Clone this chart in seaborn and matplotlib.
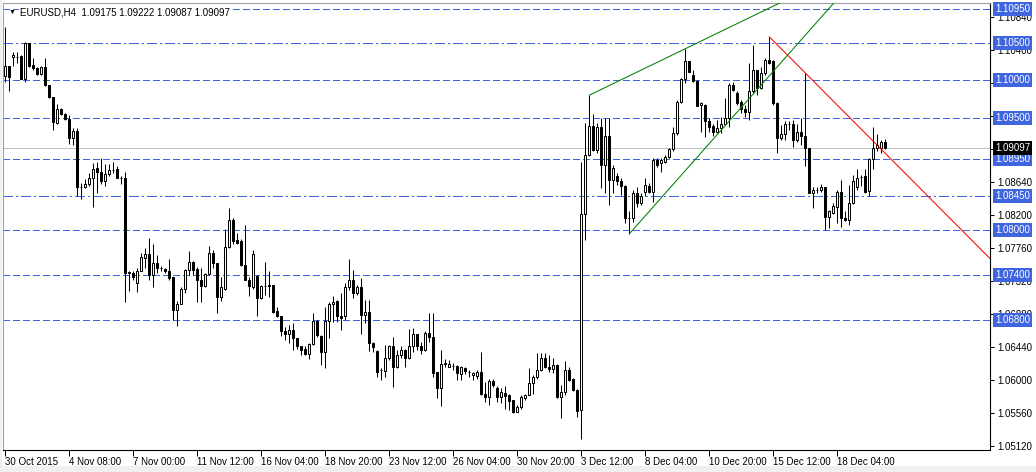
import numpy as np
import pandas as pd
import matplotlib
matplotlib.use("Agg")
import matplotlib.pyplot as plt
import matplotlib.transforms as mtransforms
from matplotlib.patches import Rectangle
import seaborn as sns

# EURUSD H4 candles (bar 0 = 30 Oct 2015)
opens = [
    1.1006, 1.1019, 1.1031, 1.1031, 1.1032, 1.1002, 1.1049, 1.1020, 1.1016, 1.1008,
    1.1017, 1.0994, 1.0977, 1.0943, 1.0961, 1.0955, 1.0948, 1.0923, 1.0932, 1.0858,
    1.0858, 1.0861, 1.0869, 1.0883, 1.0877, 1.0866, 1.0875, 1.0880, 1.0881, 1.0870,
    1.0869, 1.0744, 1.0743, 1.0730, 1.0746, 1.0763, 1.0768, 1.0740, 1.0756, 1.0750,
    1.0748, 1.0746, 1.0737, 1.0694, 1.0702, 1.0722, 1.0747, 1.0757, 1.0748, 1.0734,
    1.0726, 1.0741, 1.0770, 1.0756, 1.0711, 1.0722, 1.0777, 1.0813, 1.0787, 1.0786,
    1.0754, 1.0734, 1.0724, 1.0739, 1.0710, 1.0725, 1.0727, 1.0727, 1.0692, 1.0685,
    1.0665, 1.0661, 1.0667, 1.0656, 1.0645, 1.0642, 1.0635, 1.0648, 1.0679, 1.0659,
    1.0638, 1.0679, 1.0701, 1.0706, 1.0685, 1.0685, 1.0724, 1.0734, 1.0716, 1.0724,
    1.0687, 1.0691, 1.0650, 1.0639, 1.0613, 1.0612, 1.0629, 1.0645, 1.0618, 1.0633,
    1.0640, 1.0630, 1.0645, 1.0662, 1.0646, 1.0640, 1.0663, 1.0658, 1.0611, 1.0590,
    1.0622, 1.0618, 1.0619, 1.0619, 1.0608, 1.0616, 1.0611, 1.0607, 1.0605, 1.0611,
    1.0582, 1.0577, 1.0599, 1.0589, 1.0578, 1.0583, 1.0580, 1.0573, 1.0558, 1.0564,
    1.0576, 1.0580, 1.0596, 1.0604, 1.0614, 1.0630, 1.0618, 1.0615, 1.0620, 1.0578,
    1.0584, 1.0613, 1.0601, 1.0587, 1.0560, 1.0822, 1.0900, 1.0939, 1.0907, 1.0937,
    1.0887, 1.0925, 1.0867, 1.0872, 1.0866, 1.0859, 1.0816, 1.0816, 1.0849, 1.0836,
    1.0851, 1.0859, 1.0851, 1.0894, 1.0889, 1.0891, 1.0897, 1.0908, 1.0929, 1.0971,
    1.1001, 1.1025, 1.1007, 1.0999, 1.0967, 1.0967, 1.0946, 1.0939, 1.0931, 1.0936,
    1.0942, 1.0950, 1.0994, 1.0983, 1.0971, 1.0962, 1.0958, 1.0985, 1.1014, 1.0989,
    1.1009, 1.1027, 1.1025, 1.0969, 1.0923, 1.0928, 1.0942, 1.0942, 1.0920, 1.0931,
    1.0925, 1.0909, 1.0850, 1.0853, 1.0853, 1.0857, 1.0817, 1.0823, 1.0831, 1.0851,
    1.0816, 1.0814, 1.0836, 1.0857, 1.0871, 1.0872, 1.0852, 1.0895, 1.0909, 1.0910,
    1.09175,
]
highs = [
    1.1071, 1.1019, 1.1038, 1.1038, 1.1033, 1.1051, 1.1050, 1.1030, 1.1018, 1.1019,
    1.1030, 1.0994, 1.0978, 1.0968, 1.0963, 1.0956, 1.0954, 1.0936, 1.0936, 1.0863,
    1.0868, 1.0876, 1.0890, 1.0891, 1.0896, 1.0888, 1.0888, 1.0891, 1.0885, 1.0872,
    1.0878, 1.0746, 1.0745, 1.0749, 1.0770, 1.0776, 1.0789, 1.0781, 1.0767, 1.0752,
    1.0750, 1.0762, 1.0737, 1.0705, 1.0724, 1.0748, 1.0772, 1.0759, 1.0751, 1.0749,
    1.0743, 1.0779, 1.0773, 1.0756, 1.0738, 1.0801, 1.0829, 1.0816, 1.0796, 1.0788,
    1.0807, 1.0738, 1.0774, 1.0740, 1.0727, 1.0758, 1.0745, 1.0727, 1.0698, 1.0685,
    1.0671, 1.0673, 1.0676, 1.0656, 1.0645, 1.0645, 1.0649, 1.0690, 1.0680, 1.0660,
    1.0698, 1.0704, 1.0712, 1.0707, 1.0716, 1.0730, 1.0761, 1.0747, 1.0727, 1.0736,
    1.0707, 1.0707, 1.0651, 1.0640, 1.0616, 1.0647, 1.0647, 1.0657, 1.0640, 1.0645,
    1.0642, 1.0668, 1.0669, 1.0662, 1.0651, 1.0665, 1.0689, 1.0689, 1.0611, 1.0640,
    1.0628, 1.0627, 1.0623, 1.0620, 1.0619, 1.0617, 1.0613, 1.0611, 1.0614, 1.0638,
    1.0598, 1.0602, 1.0602, 1.0592, 1.0589, 1.0592, 1.0582, 1.0573, 1.0567, 1.0580,
    1.0582, 1.0616, 1.0607, 1.0636, 1.0636, 1.0636, 1.0634, 1.0629, 1.0622, 1.0594,
    1.0626, 1.0617, 1.0603, 1.0588, 1.0891, 1.0943, 1.0980, 1.0955, 1.0943, 1.0949,
    1.0949, 1.0949, 1.0887, 1.0876, 1.0870, 1.0860, 1.0826, 1.0854, 1.0858, 1.0850,
    1.0869, 1.0863, 1.0896, 1.0896, 1.0896, 1.0900, 1.0909, 1.0938, 1.0973, 1.1003,
    1.1042, 1.1026, 1.1014, 1.1000, 1.0971, 1.0968, 1.0949, 1.0942, 1.0947, 1.0951,
    1.0976, 1.0996, 1.0998, 1.0985, 1.0973, 1.0967, 1.1023, 1.1047, 1.1014, 1.1018,
    1.1029, 1.1058, 1.1027, 1.0971, 1.0940, 1.0945, 1.0946, 1.0947, 1.0942, 1.0949,
    1.1010, 1.0909, 1.0857, 1.0858, 1.0862, 1.0858, 1.0827, 1.0836, 1.0853, 1.0867,
    1.0825, 1.0860, 1.0874, 1.0882, 1.0873, 1.0882, 1.0896, 1.0938, 1.0928, 1.0920,
    1.09222,
]
lows = [
    1.0998, 1.0985, 1.1019, 1.1023, 1.1001, 1.0998, 1.1018, 1.1014, 1.1007, 1.1007,
    1.0992, 1.0976, 1.0934, 1.0942, 1.0954, 1.0947, 1.0915, 1.0913, 1.0845, 1.0842,
    1.0856, 1.0859, 1.0831, 1.0849, 1.0862, 1.0859, 1.0872, 1.0876, 1.0869, 1.0862,
    1.0704, 1.0719, 1.0734, 1.0718, 1.0745, 1.0750, 1.0733, 1.0724, 1.0743, 1.0746,
    1.0743, 1.0734, 1.0680, 1.0672, 1.0701, 1.0716, 1.0740, 1.0740, 1.0704, 1.0704,
    1.0724, 1.0740, 1.0750, 1.0689, 1.0706, 1.0720, 1.0776, 1.0782, 1.0782, 1.0752,
    1.0733, 1.0712, 1.0722, 1.0685, 1.0708, 1.0713, 1.0711, 1.0689, 1.0684, 1.0659,
    1.0653, 1.0649, 1.0640, 1.0642, 1.0633, 1.0633, 1.0628, 1.0647, 1.0658, 1.0620,
    1.0616, 1.0656, 1.0678, 1.0678, 1.0667, 1.0680, 1.0720, 1.0710, 1.0713, 1.0662,
    1.0676, 1.0639, 1.0638, 1.0604, 1.0600, 1.0604, 1.0627, 1.0591, 1.0616, 1.0629,
    1.0618, 1.0628, 1.0638, 1.0640, 1.0635, 1.0639, 1.0651, 1.0604, 1.0576, 1.0565,
    1.0617, 1.0617, 1.0613, 1.0600, 1.0600, 1.0608, 1.0604, 1.0600, 1.0602, 1.0580,
    1.0571, 1.0567, 1.0591, 1.0571, 1.0569, 1.0561, 1.0560, 1.0556, 1.0557, 1.0562,
    1.0573, 1.0580, 1.0582, 1.0602, 1.0612, 1.0616, 1.0611, 1.0609, 1.0576, 1.0549,
    1.0580, 1.0599, 1.0585, 1.0551, 1.0522, 1.0787, 1.0899, 1.0905, 1.0903, 1.0856,
    1.0849, 1.0834, 1.0849, 1.0860, 1.0847, 1.0809, 1.0795, 1.0811, 1.0831, 1.0834,
    1.0845, 1.0850, 1.0838, 1.0884, 1.0878, 1.0889, 1.0896, 1.0905, 1.0927, 1.0969,
    1.0996, 1.1011, 1.0998, 1.0965, 1.0931, 1.0924, 1.0931, 1.0926, 1.0929, 1.0929,
    1.0940, 1.0938, 1.0985, 1.0967, 1.0956, 1.0951, 1.0947, 1.0983, 1.0980, 1.0988,
    1.1007, 1.1022, 1.0967, 1.0903, 1.0920, 1.0920, 1.0934, 1.0911, 1.0918, 1.0914,
    1.0886, 1.0849, 1.0830, 1.0850, 1.0851, 1.0800, 1.0803, 1.0822, 1.0809, 1.0804,
    1.0812, 1.0807, 1.0835, 1.0854, 1.0859, 1.0849, 1.0845, 1.0881, 1.0905, 1.0903,
    1.09087,
]
closes = [
    1.1019, 1.1004, 1.1033, 1.1031, 1.1002, 1.1049, 1.1019, 1.1016, 1.1008, 1.1017,
    1.0994, 1.0977, 1.0944, 1.0961, 1.0955, 1.0948, 1.0923, 1.0932, 1.0858, 1.0858,
    1.0861, 1.0869, 1.0881, 1.0877, 1.0866, 1.0875, 1.0880, 1.0880, 1.0870, 1.0869,
    1.0743, 1.0743, 1.0737, 1.0746, 1.0764, 1.0768, 1.0740, 1.0756, 1.0750, 1.0749,
    1.0745, 1.0736, 1.0694, 1.0702, 1.0722, 1.0747, 1.0757, 1.0747, 1.0733, 1.0726,
    1.0741, 1.0770, 1.0756, 1.0711, 1.0724, 1.0777, 1.0813, 1.0785, 1.0783, 1.0753,
    1.0734, 1.0725, 1.0768, 1.0710, 1.0725, 1.0725, 1.0725, 1.0691, 1.0685, 1.0665,
    1.0661, 1.0667, 1.0656, 1.0645, 1.0640, 1.0635, 1.0648, 1.0679, 1.0660, 1.0638,
    1.0679, 1.0702, 1.0704, 1.0685, 1.0683, 1.0724, 1.0734, 1.0716, 1.0724, 1.0687,
    1.0691, 1.0649, 1.0644, 1.0611, 1.0613, 1.0629, 1.0645, 1.0618, 1.0633, 1.0640,
    1.0630, 1.0645, 1.0662, 1.0645, 1.0640, 1.0663, 1.0658, 1.0610, 1.0589, 1.0621,
    1.0623, 1.0622, 1.0619, 1.0609, 1.0617, 1.0612, 1.0611, 1.0610, 1.0611, 1.0582,
    1.0577, 1.0599, 1.0594, 1.0578, 1.0584, 1.0579, 1.0572, 1.0558, 1.0564, 1.0578,
    1.0580, 1.0596, 1.0604, 1.0614, 1.0630, 1.0618, 1.0615, 1.0620, 1.0578, 1.0584,
    1.0613, 1.0600, 1.0587, 1.0559, 1.0822, 1.0900, 1.0939, 1.0907, 1.0937, 1.0887,
    1.0925, 1.0867, 1.0883, 1.0866, 1.0859, 1.0816, 1.0816, 1.0849, 1.0836, 1.0846,
    1.0860, 1.0851, 1.0894, 1.0887, 1.0894, 1.0898, 1.0908, 1.0929, 1.0971, 1.1001,
    1.1025, 1.1011, 1.0999, 1.0966, 1.0970, 1.0945, 1.0938, 1.0931, 1.0936, 1.0942,
    1.0950, 1.0994, 1.0987, 1.0970, 1.0961, 1.0957, 1.0985, 1.1014, 1.0989, 1.1009,
    1.1027, 1.1023, 1.0969, 1.0923, 1.0928, 1.0942, 1.0942, 1.0920, 1.0931, 1.0925,
    1.0909, 1.0850, 1.0854, 1.0853, 1.0857, 1.0817, 1.0825, 1.0832, 1.0851, 1.0816,
    1.0813, 1.0836, 1.0866, 1.0870, 1.0871, 1.0851, 1.0895, 1.0910, 1.0914, 1.0917,
    1.09097,
]

date_labels = ["30 Oct 2015", "4 Nov 08:00", "7 Nov 00:00", "11 Nov 12:00",
               "16 Nov 04:00", "18 Nov 20:00", "23 Nov 12:00", "26 Nov 04:00",
               "30 Nov 20:00", "3 Dec 12:00", "8 Dec 04:00", "10 Dec 20:00",
               "15 Dec 12:00", "18 Dec 04:00"]
label_every = 16  # bars between date labels

price_ticks = [1.10840, 1.10400, 1.09960, 1.09520, 1.09080, 1.08640, 1.08200,
               1.07760, 1.07320, 1.06880, 1.06440, 1.06000, 1.05560, 1.05120]
# scale labels fully covered by the level tags in the terminal
covered_ticks = ["1.09520", "1.09080"]

# horizontal levels drawn on the chart
levels = [1.10950, 1.10500, 1.10000, 1.09500, 1.08950, 1.08450, 1.08000, 1.07400, 1.06800]
level_styles = ["dash", "dashdot", "dash", "dash", "dash", "dashdot", "dash", "dash", "dash"]
bid = 1.09097

# trend rays: (bar, price) anchor points
rays = [
    ((146, 1.0980), (170, 1.1042), "green"),
    ((156, 1.0795), (200, 1.1060), "green"),
    ((191, 1.1058), (216, 1.0924), "red"),
]

BLUE = "#3f66e0"

sns.set_theme(style="white")
plt.rcParams["font.family"] = ["Liberation Sans", "DejaVu Sans"]

df = pd.DataFrame({"open": opens, "high": highs, "low": lows, "close": closes})
df["bar"] = np.arange(len(df))
df["up"] = df["close"] >= df["open"]

fig = plt.figure(figsize=(10.36, 4.72), dpi=100)
fig.patch.set_facecolor("white")
ax = fig.add_axes([3 / 1036, 22.5 / 472, 987 / 1036, 446.5 / 472])
ax.set_facecolor("white")

x_max = 246.2
ax.set_xlim(-0.6, x_max)
ax.set_ylim(1.05074, 1.11030)

# levels + bid line (crisp 1px like the terminal)
dash_map = {"dash": (6, 3), "dashdot": (10, 4, 2, 4)}
for lvl, st in zip(levels, level_styles):
    ax.axhline(lvl, color=BLUE, lw=0.72, dashes=dash_map[st], zorder=1,
               antialiased=False)
ax.axhline(bid, color="#c0c0c0", lw=0.72, zorder=1, antialiased=False)

# candles
ax.vlines(df["bar"], df["low"], df["high"], color="black", lw=0.72, zorder=3)
body_bot = df[["open", "close"]].min(axis=1)
body_h = (df["close"] - df["open"]).abs().clip(lower=0.00002)
ax.bar(df["bar"], body_h, bottom=body_bot, width=0.5,
       color=np.where(df["up"], "white", "black"), edgecolor="black",
       linewidth=0.72, zorder=4)

# trend rays
for (x0, y0), (x1, y1), col in rays:
    slope = (y1 - y0) / (x1 - x0)
    sns.lineplot(x=[x0, x_max], y=[y0, y0 + slope * (x_max - x0)],
                 color=col, lw=0.75, ax=ax, zorder=5)

# axes look
for side in ["right", "bottom"]:
    ax.spines[side].set_color("black")
    ax.spines[side].set_linewidth(0.8)
for side in ["left", "top"]:
    ax.spines[side].set_color("#a0a0a0")
    ax.spines[side].set_linewidth(0.8)

ax.set_xticks(range(0, label_every * len(date_labels), label_every))
ax.set_xticklabels(date_labels, ha="left")
shift = mtransforms.ScaledTranslation(2 / 72, 0, fig.dpi_scale_trans)
for lab in ax.get_xticklabels():
    lab.set_transform(lab.get_transform() + shift)
ax.tick_params(axis="x", direction="out", length=4, width=0.72, pad=1.5,
               labelsize=7, bottom=True, color="black", labelcolor="black")

ax.yaxis.tick_right()
ax.set_yticks(price_ticks)
tick_text = [f"{t:.5f}" for t in price_ticks]
ax.set_yticklabels(["" if s in covered_ticks else s for s in tick_text])
ax.tick_params(axis="y", direction="out", length=3, width=0.72, pad=2,
               labelsize=7, right=True, left=False, color="black", labelcolor="black")
ax.set_xlabel("")
ax.set_ylabel("")

# level price tags on the scale
trans = mtransforms.blended_transform_factory(ax.transAxes, ax.transData)
for lvl in levels:
    ax.text(1.0053, lvl, f"{lvl:.5f}", transform=trans, ha="left", va="center",
            fontsize=7, color="white", clip_on=False, zorder=10,
            bbox=dict(boxstyle="square,pad=0.2", fc=BLUE, ec="none"))
ax.text(1.0053, bid, f"{bid:.5f}", transform=trans, ha="left", va="center",
        fontsize=7, color="white", clip_on=False, zorder=10,
        bbox=dict(boxstyle="square,pad=0.2", fc="black", ec="none"))

# header
fig.text(9 / 1036, 1 - 12 / 472, "▼", fontsize=5, ha="left", va="center", color="black")
fig.text(20 / 1036, 1 - 12.5 / 472,
         f"EURUSD,H4  {opens[-1]:.5f} {highs[-1]:.5f} {lows[-1]:.5f} {closes[-1]:.5f}",
         fontsize=7, ha="left", va="center", color="black",
         bbox=dict(boxstyle="square,pad=0.1", fc="white", ec="none"))

# window chrome
fig.patches.append(Rectangle((0, 0), 1, 6 / 472, transform=fig.transFigure,
                             fc="#f0f0f0", ec="none", zorder=0))
fig.patches.append(Rectangle((0, 0), 2 / 1036, 1, transform=fig.transFigure,
                             fc="#f0f0f0", ec="none", zorder=0))

fig.savefig("out.png", dpi=100)
